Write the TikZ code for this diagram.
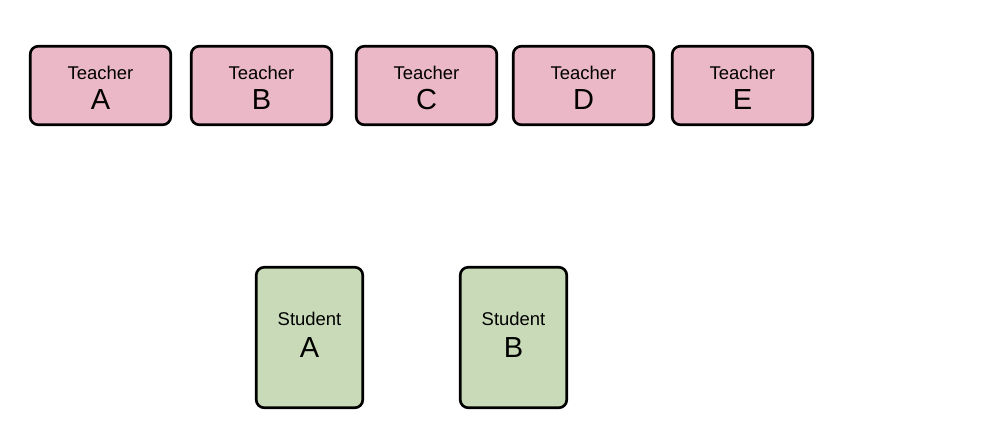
\documentclass[tikz,border=0pt]{standalone}
\usepackage{fontspec}
\setmainfont{Liberation Sans}
\definecolor{teacherpink}{HTML}{EAB8C6}
\definecolor{studentgreen}{HTML}{C8DAB8}
\tikzset{
    box/.style={draw, line width=1.5pt, rounded corners=4.5pt, inner sep=0pt},
    teacher/.style={box, fill=teacherpink, minimum width=28.1mm, minimum height=15.7mm},
    student/.style={box, fill=studentgreen, minimum width=21.3mm, minimum height=28.1mm},
    rolelabel/.style={anchor=base, inner sep=0pt, font=\fontsize{10.5}{12}\selectfont},
    letterlabel/.style={anchor=base, inner sep=0pt, font=\fontsize{16.5}{18}\selectfont},
}
\begin{document}
\begin{tikzpicture}[x=0.2mm, y=-0.2mm]
    \useasboundingbox (0, 0) rectangle (1000, 433);
    % teachers
    \foreach \name/\xc in {A/100.5, B/261.5, C/426.5, D/583.5, E/742.5} {
        \node[teacher] (t\name) at (\xc, 85.5) {};
        \node[rolelabel] (tr\name) at ([yshift=1.3mm]t\name.center) {Teacher};
        \node[letterlabel] (tl\name) at ([yshift=-4.7mm]t\name.center) {\name};
    }
    % students
    \foreach \name/\xc in {A/309.5, B/513.5} {
        \node[student] (s\name) at (\xc, 337.5) {};
        \node[rolelabel] (sr\name) at ([yshift=2.4mm]s\name.center) {Student};
        \node[letterlabel] (sl\name) at ([yshift=-3.9mm]s\name.center) {\name};
    }
\end{tikzpicture}
\end{document}
